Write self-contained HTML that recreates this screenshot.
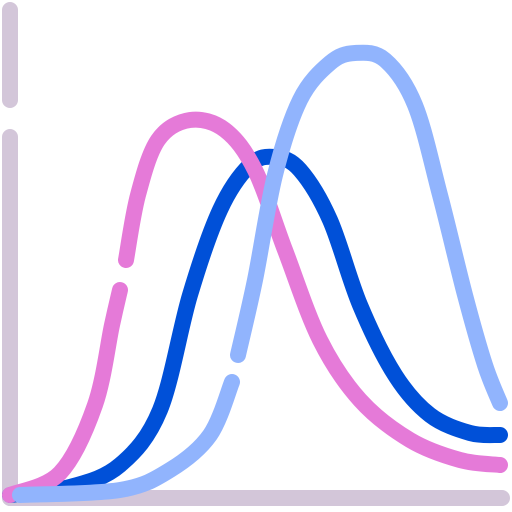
<!DOCTYPE html>
<html><head><meta charset="utf-8"><style>
html,body{margin:0;padding:0;background:#fff;width:512px;height:512px;overflow:hidden}
svg{display:block}
</style></head><body>
<svg id="chart" width="512" height="512" viewBox="0 0 512 512">
<g id="axes">
<line x1="10" y1="10" x2="10" y2="100" stroke="#d3c6d9" stroke-width="16" stroke-linecap="round"/>
<line x1="10" y1="137" x2="10" y2="498" stroke="#d3c6d9" stroke-width="16" stroke-linecap="round"/>
<line x1="10" y1="498" x2="502" y2="498" stroke="#d3c6d9" stroke-width="16" stroke-linecap="round"/>
</g>
<g id="series"></g>
</svg>
<script>
const darkX = [0,60,110,150,180,210,240,265,290,320,350,385,420,460,490];
const darkY = [0,8,30,85,200,285,330,338,325,275,190,120,80,62,60];
const pinkX1 = [0,50,85,102,110];
const pinkY1 = [0,22,90,170,205];
const pinkX2 = [116,128,148,180,215,245,275,310,350,400,450,490];
const pinkY2 = [235,300,355,375,365,325,245,155,95,55,35,30];
const lightX1 = [10,110,160,200,222];
const lightY1 = [0,5,25,60,113];
const lightX2 = [228,245,265,290,320,345,375,405,430,455,475,490];
const lightY2 = [140,215,320,395,432,442,435,390,300,200,130,92];

const sx = v => 10 + v;
const sy = v => 495 - v;

function pathFrom(xs, ys){
  const p = xs.map((x,i)=>[sx(x), sy(ys[i])]);
  let d = `M${p[0][0]},${p[0][1]}`;
  for(let i=0;i<p.length-1;i++){
    const p0=p[i-1]||p[i], p1=p[i], p2=p[i+1], p3=p[i+2]||p2;
    const c1x=p1[0]+(p2[0]-p0[0])/6, c1y=p1[1]+(p2[1]-p0[1])/6;
    const c2x=p2[0]-(p3[0]-p1[0])/6, c2y=p2[1]-(p3[1]-p1[1])/6;
    d += ` C${c1x},${c1y} ${c2x},${c2y} ${p2[0]},${p2[1]}`;
  }
  return d;
}
const g = document.getElementById('series');
function add(xs, ys, color, name){
  const el = document.createElementNS('http://www.w3.org/2000/svg','path');
  el.setAttribute('d', pathFrom(xs, ys));
  el.setAttribute('fill','none');
  el.setAttribute('stroke',color);
  el.setAttribute('stroke-width','16');
  el.setAttribute('stroke-linecap','round');
  el.setAttribute('stroke-linejoin','round');
  
  
  g.appendChild(el);
}
add(darkX, darkY, '#0050d8', 'dark-blue-curve');
add(pinkX1, pinkY1, '#e57ad8', 'pink-curve-lower');
add(pinkX2, pinkY2, '#e57ad8', 'pink-curve-upper');
add(lightX1, lightY1, '#91b4fd', 'light-blue-curve-lower');
add(lightX2, lightY2, '#91b4fd', 'light-blue-curve-upper');
</script>
</body></html>
